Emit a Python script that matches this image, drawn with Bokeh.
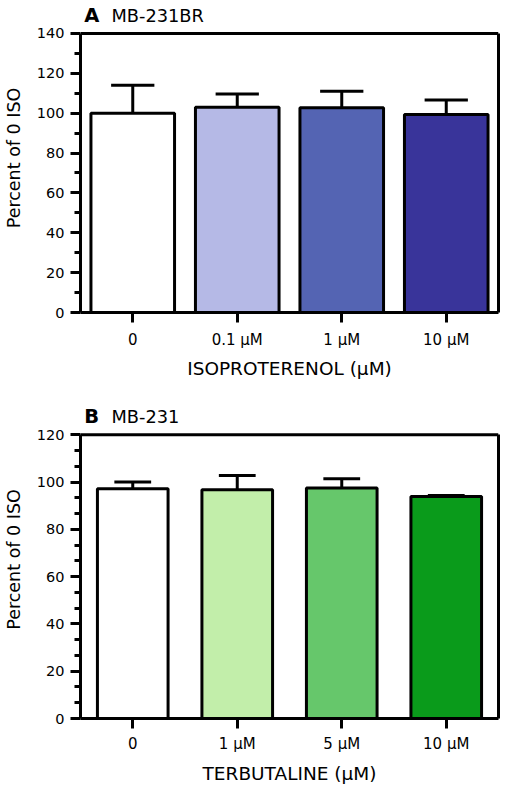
from bokeh.plotting import figure
from bokeh.layouts import column
from bokeh.models import FixedTicker, Label, LinearAxis, Span
from bokeh.embed import file_html
from bokeh.resources import INLINE

# ---- data ----
cats_a = ["0", "0.1 µM", "1 µM", "10 µM"]
mean_a = [100.0, 103.0, 102.7, 99.3]
upper_a = [114.0, 109.6, 111.0, 106.6]
colors_a = ["#ffffff", "#b5b9e6", "#5464b3", "#39349a"]

cats_b = ["0", "1 µM", "5 µM", "10 µM"]
mean_b = [97.2, 96.8, 97.5, 93.9]
upper_b = [100.0, 102.8, 101.4, 94.3]
colors_b = ["#ffffff", "#c2eeaa", "#66c76b", "#0a9b1b"]

yticks_a = [0, 20, 40, 60, 80, 100, 120, 140]
yticks_b = [0, 20, 40, 60, 80, 100, 120]
minor_a = [10, 30, 50, 70, 90, 110, 130]
minor_b = [6.67, 13.33, 26.67, 33.33, 46.67, 53.33, 66.67, 73.33,
           86.67, 93.33, 106.67, 113.33]

FONT = "DejaVu Sans"
LW = 3


def make_panel(cats, means, uppers, colors, yticks, minor, ymax, yend, bar_w,
               cap_w, xlabel, letter, name, title_y, height, b_top, b_bottom,
               b_right, lab_off, axlab_off):
    # the frame reaches above the axis box so that the panel title fits in it
    p = figure(x_range=cats, y_range=(0, yend), width=512, height=height,
               output_backend="svg", toolbar_location=None,
               min_border_left=79, min_border_right=b_right,
               min_border_top=b_top, min_border_bottom=b_bottom)
    p.xgrid.visible = False
    p.ygrid.visible = False
    p.background_fill_color = "white"
    p.border_fill_color = "white"
    p.outline_line_color = None

    p.vbar(x=cats, top=means, width=bar_w, bottom=0, fill_color=colors,
           line_color="black", line_width=LW)
    p.segment(x0=cats, y0=means, x1=cats, y1=uppers, line_color="black",
              line_width=LW)
    cap_l = [(c, -cap_w) for c in cats]
    cap_r = [(c, cap_w) for c in cats]
    p.segment(x0=cap_l, y0=uppers, x1=cap_r, y1=uppers, line_color="black",
              line_width=LW)

    # top edge of the box
    p.add_layout(Span(location=ymax, dimension="width", line_color="black",
                      line_width=LW))
    # right edge of the box
    rax = LinearAxis(bounds=(0, ymax), ticker=FixedTicker(ticks=[]),
                     major_tick_out=0, major_tick_in=0, minor_tick_out=0,
                     minor_tick_in=0, major_label_text_font_size="0px",
                     major_label_standoff=0, axis_line_width=LW)
    p.add_layout(rax, "right")

    p.yaxis[0].bounds = (0, ymax)
    p.yaxis[0].ticker = FixedTicker(ticks=yticks, minor_ticks=minor)
    for ax in (p.xaxis[0], p.yaxis[0]):
        ax.axis_line_width = LW
        ax.major_tick_line_width = LW
        ax.minor_tick_line_width = LW
        ax.major_tick_out = 10
        ax.major_tick_in = 0
        ax.minor_tick_out = 6
        ax.minor_tick_in = 0
        ax.major_label_text_font = FONT
        ax.major_label_text_color = "black"
        ax.axis_label_text_font = FONT
        ax.axis_label_text_font_style = "normal"
        ax.axis_label_text_color = "black"
    p.xaxis[0].minor_tick_line_color = None
    p.xaxis[0].major_label_text_font_size = "15px"
    p.yaxis[0].major_label_text_font_size = "14.5px"
    p.xaxis[0].axis_label_text_font_size = "18.5px"
    p.yaxis[0].axis_label_text_font_size = "17.5px"
    p.xaxis[0].major_label_standoff = lab_off
    p.xaxis[0].axis_label_standoff = axlab_off
    p.yaxis[0].major_label_standoff = 6
    p.yaxis[0].axis_label_standoff = 10
    p.xaxis[0].axis_label = xlabel
    p.yaxis[0].axis_label = "Percent of 0 ISO"

    p.add_layout(Label(x=0.035, y=title_y, text=letter, text_font=FONT,
                       text_font_size="19.5px", text_font_style="bold",
                       text_baseline="alphabetic", text_color="black"))
    p.add_layout(Label(x=0.296, y=title_y, text=name, text_font=FONT,
                       text_font_size="17.8px", text_baseline="alphabetic",
                       text_color="black"))
    return p


pa = make_panel(cats_a, mean_a, upper_a, colors_a, yticks_a, minor_a, 140, 155,
                0.8, 0.207, "ISOPROTERENOL (µM)", "A", "MB-231BR", 148.9,
                385, 3, 73, 14, 8, 6)
pb = make_panel(cats_b, mean_b, upper_b, colors_b, yticks_b, minor_b, 120, 134.5,
                0.676, 0.176, "TERBUTALINE (µM)", "B", "MB-231", 127.6,
                405, 15, 72, 10, 6, 7)

layout = column(pa, pb, spacing=0)
open("out.html", "w").write(file_html(layout, INLINE))
